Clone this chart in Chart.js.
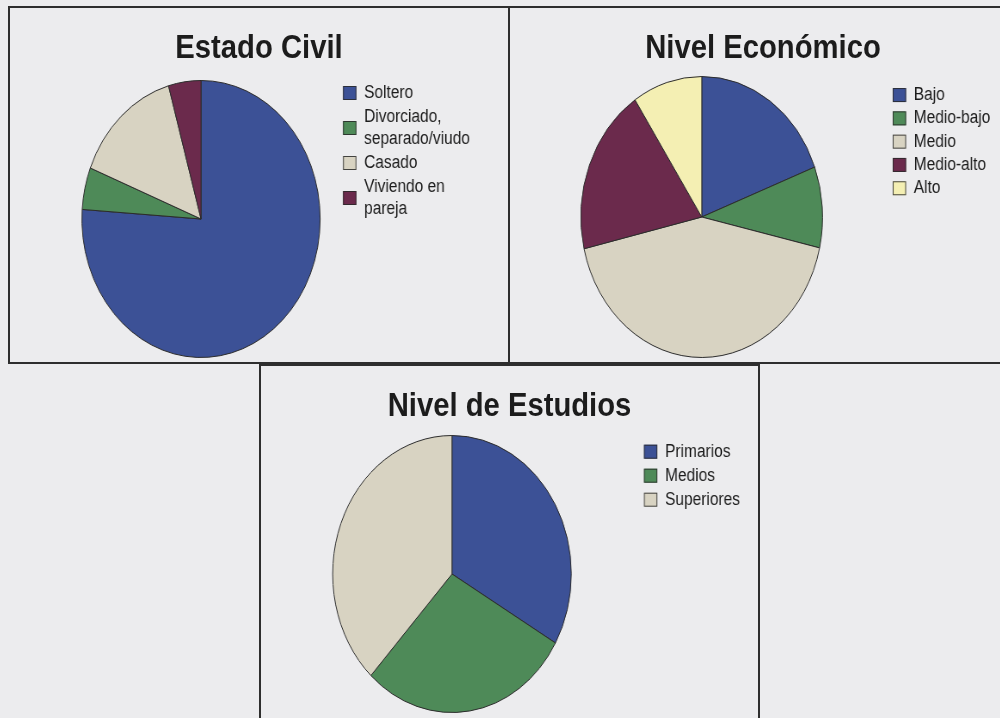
<!DOCTYPE html>
<html lang="es">
<head>
<meta charset="utf-8">
<title>Estado civil, nivel económico y nivel de estudios</title>
<script src="https://cdn.jsdelivr.net/npm/chart.js@4.4.1/dist/chart.umd.min.js"></script>
<style>
  html, body { margin: 0; padding: 0; }
  body {
    width: 1000px; height: 718px; overflow: hidden; position: relative;
    background: #ececee;
    font-family: "Liberation Sans", Arial, sans-serif;
  }
  .panel { position: absolute; box-sizing: border-box; border: 2px solid #2e2e2e; overflow: hidden; }
  .sheet { position: absolute; left: 0; top: 0; transform-origin: 0 0; }
  .sheet h2 {
    position: absolute; left: 0; right: 0; margin: 0;
    text-align: center; color: #1c1c1c;
    font: bold 34px/40px "Liberation Sans", Arial, sans-serif;
  }
  .plot { position: absolute; left: 0; top: 0; right: 0; bottom: 0; }
</style>
</head>
<body>
<script>
// Estado civil
const civilLabels = ['Soltero', ['Divorciado,', 'separado/viudo'], 'Casado', ['Viviendo en', 'pareja']];
const civilValues = [76.1, 4.9, 14.6, 4.4];

// Nivel económico
const economicLabels = ['Bajo', 'Medio-bajo', 'Medio', 'Medio-alto', 'Alto'];
const economicValues = [19.2, 9.3, 42.8, 19.3, 9.3];

// Nivel de estudios
const studyLabels = ['Primarios', 'Medios', 'Superiores'];
const studyValues = [33.3, 28.6, 38.1];

// palette
const BLUE = '#3c5196';
const GREEN = '#4e8a58';
const BEIGE = '#d8d3c2';
const PLUM = '#6b2a4c';
const CREAM = '#f4efb3';
const INK = '#1c1c1c';
const EDGE = '#2b2b2b';

const FONT = '"Liberation Sans", Arial, sans-serif';
const SQUEEZE = 0.86;          // sheets are drawn narrower than tall
const BORDER = 2;
const TITLE_ASCENT = 31.8;     // baseline offset inside the 40px title line
const LEGEND_FONT = { family: FONT, size: 18, lineHeight: 22 / 18 };
const LEGEND_PAD = 2;
const SWATCH_W = 15.5;
const SWATCH_H = 14;

const panels = [
  {
    title: 'Estado Civil', labels: civilLabels, values: civilValues,
    colors: [BLUE, GREEN, BEIGE, PLUM],
    frame: [8, 6, 502, 358], titleBase: 50,
    pieX: 222.1, pieTop: 72, pieBottom: 349,
    legendX: 387.2, legendGap: 0, rowH: 22
  },
  {
    title: 'Nivel Económico', labels: economicLabels, values: economicValues,
    colors: [BLUE, GREEN, BEIGE, PLUM, CREAM],
    frame: [508, 6, 510, 358], titleBase: 49.3,
    pieX: 222.9, pieTop: 68, pieBottom: 349,
    legendX: 445, legendGap: 6.4, rowH: 21.3
  },
  {
    title: 'Nivel de Estudios', labels: studyLabels, values: studyValues,
    colors: [BLUE, GREEN, BEIGE],
    frame: [259, 364, 501, 360], titleBase: 50,
    pieX: 221.7, pieTop: 69, pieBottom: 346,
    legendX: 444.5, legendGap: 3.7, rowH: 22
  }
];

// legend squares are painted by hand so they sit in the middle of two-line entries
const swatches = {
  id: 'swatches',
  afterDraw(chart, args, opts) {
    const legend = chart.legend;
    if (!legend || !legend.legendHitBoxes) return;
    const ctx = chart.ctx;
    const fills = chart.data.datasets[0].backgroundColor;
    legend.legendHitBoxes.forEach((hb, i) => {
      const y = hb.top + (hb.height - opts.height) / 2;
      ctx.save();
      ctx.fillStyle = fills[i];
      ctx.fillRect(hb.left, y, opts.width, opts.height);
      ctx.strokeStyle = opts.edge;
      ctx.lineWidth = 1;
      ctx.strokeRect(hb.left + 0.5, y + 0.5, opts.width - 1, opts.height - 1);
      ctx.restore();
    });
  }
};

function hollowLabels(chart) {
  const items = Chart.overrides.doughnut.plugins.legend.labels.generateLabels(chart);
  return items.map(item => Object.assign(item, {
    fillStyle: 'rgba(0,0,0,0)', strokeStyle: 'rgba(0,0,0,0)', lineWidth: 0
  }));
}

// same sum Chart.js uses when it sizes a vertical legend
const measureCtx = document.createElement('canvas').getContext('2d');
function legendWidth(labels) {
  measureCtx.font = LEGEND_FONT.size + 'px ' + FONT;
  let widest = 0;
  labels.forEach(label => {
    let text = label;
    if (Array.isArray(text)) text = text.reduce((a, b) => a.length > b.length ? a : b);
    widest = Math.max(widest, SWATCH_W + LEGEND_FONT.size / 2 + measureCtx.measureText(text).width);
  });
  return LEGEND_PAD + widest + 10;
}

function buildPanel(p) {
  const [x, y, w, h] = p.frame;
  const frame = document.createElement('div');
  frame.className = 'panel';
  Object.assign(frame.style, { left: x + 'px', top: y + 'px', width: w + 'px', height: h + 'px' });

  const sheetW = (w - 2 * BORDER) / SQUEEZE;
  const sheetH = h - 2 * BORDER;
  const sheet = document.createElement('div');
  sheet.className = 'sheet';
  Object.assign(sheet.style, { width: sheetW + 'px', height: sheetH + 'px', transform: `scaleX(${SQUEEZE})` });

  const heading = document.createElement('h2');
  heading.textContent = p.title;
  heading.style.top = (p.titleBase - TITLE_ASCENT) + 'px';

  const plot = document.createElement('div');
  plot.className = 'plot';
  const canvas = document.createElement('canvas');
  plot.appendChild(canvas);
  sheet.append(heading, plot);
  frame.appendChild(sheet);
  document.body.appendChild(frame);

  const legendLeft = p.legendX - LEGEND_PAD;
  const padding = {
    left: 2 * p.pieX - legendLeft,
    right: sheetW - legendLeft - legendWidth(p.labels),
    top: p.pieTop,
    bottom: sheetH - p.pieBottom - 1
  };

  new Chart(canvas, {
    type: 'pie',
    data: {
      labels: p.labels,
      datasets: [{
        data: p.values,
        backgroundColor: p.colors,
        borderColor: EDGE,
        borderWidth: 1,
        hoverOffset: 0
      }]
    },
    options: {
      responsive: true,
      maintainAspectRatio: false,
      animation: false,
      events: [],
      layout: { padding },
      plugins: {
        title: { display: false },
        tooltip: { enabled: false },
        legend: {
          position: 'right',
          align: 'start',
          title: {
            display: p.legendGap > 0,
            text: '',
            font: { size: 1, lineHeight: 1 },
            padding: { top: Math.max(p.legendGap - 1, 0), bottom: 0 }
          },
          labels: {
            font: LEGEND_FONT,
            color: INK,
            boxWidth: SWATCH_W,
            boxHeight: p.rowH,
            padding: LEGEND_PAD,
            generateLabels: hollowLabels
          }
        },
        swatches: { width: SWATCH_W, height: SWATCH_H, edge: 'rgba(40,40,40,0.85)' }
      }
    },
    plugins: [swatches]
  });
}

panels.forEach(buildPanel);
</script>
</body>
</html>
